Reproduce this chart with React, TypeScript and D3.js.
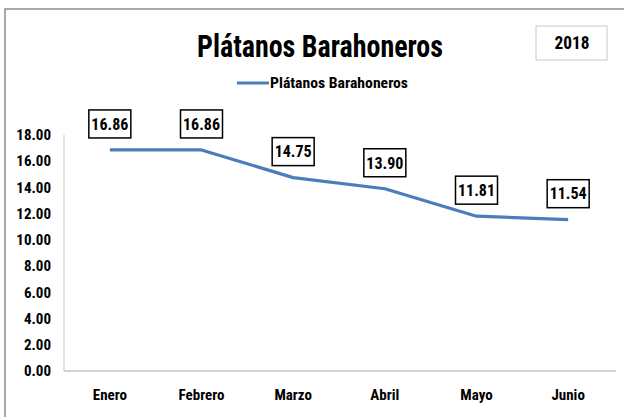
import * as d3 from "d3";

const months = ["Enero", "Febrero", "Marzo", "Abril", "Mayo", "Junio"];
const prices = [16.86, 16.86, 14.75, 13.9, 11.81, 11.54];
const yTicks = [0, 2, 4, 6, 8, 10, 12, 14, 16, 18];
const seriesName = "Plátanos Barahoneros";
const yearLabel = "2018";

const W = 624;
const H = 417;
const FONT = "'Liberation Sans Narrow', 'Arial Narrow', 'Roboto Condensed', 'Open Sans', sans-serif";
const BLUE = "#4a7ebb";

export default function App() {
  const x = d3.scaleBand().domain(months).range([64, 614]);
  const y = d3.scaleLinear().domain([0, 18]).range([371, 135]);
  const cx = (m: string) => (x(m) ?? 0) + x.bandwidth() / 2;

  const line = d3
    .line<number>()
    .x((_, i) => cx(months[i]))
    .y((d) => y(d));

  return (
    <svg
      width={W}
      height={H}
      style={{ position: "absolute", left: 0, top: 0, background: "#fff" }}
      fontFamily={FONT}
      fontWeight="bold"
    >
      <rect x={5} y={9} width={W + 10} height={H + 10} fill="#fff" stroke="#8c8c8c" strokeWidth={1.5} />

      {/* title + year box */}
      <text x={320} y={57} fontSize={32} textAnchor="middle" textLength={246} lengthAdjust="spacingAndGlyphs">
        {seriesName}
      </text>
      <rect x={536} y={26} width={71} height={34} fill="#fff" stroke="#c8c8c8" strokeWidth={1} />
      <text x={572} y={49} fontSize={18} textAnchor="middle" textLength={35} lengthAdjust="spacingAndGlyphs">
        {yearLabel}
      </text>

      {/* legend */}
      <line x1={237} x2={269} y1={83} y2={83} stroke={BLUE} strokeWidth={3} />
      <text x={270} y={88} fontSize={14} textLength={138} lengthAdjust="spacingAndGlyphs">
        {seriesName}
      </text>

      {/* axes */}
      <line x1={64} x2={64} y1={y(18)} y2={y(0)} stroke="#c4c4c4" strokeWidth={1} />
      <line x1={64} x2={616} y1={y(0)} y2={y(0)} stroke="#c4c4c4" strokeWidth={1.5} />
      {yTicks.map((t) => (
        <text key={t} x={51} y={y(t)} dy="0.35em" fontSize={15} textAnchor="end">
          {t.toFixed(2)}
        </text>
      ))}
      {months.map((m) => (
        <text key={m} x={cx(m)} y={400} fontSize={15} textAnchor="middle">
          {m}
        </text>
      ))}

      {/* series */}
      <path d={line(prices) ?? ""} fill="none" stroke={BLUE} strokeWidth={3.2} strokeLinejoin="round" />

      {/* data labels */}
      {prices.map((v, i) => {
        const px = cx(months[i]);
        const py = y(v);
        return (
          <g key={i}>
            <rect x={px - 21} y={py - 40} width={42} height={28} fill="#fff" stroke="#000" strokeWidth={1.5} />
            <text x={px} y={py - 26} dy="0.36em" fontSize={16} textAnchor="middle">
              {v.toFixed(2)}
            </text>
          </g>
        );
      })}
    </svg>
  );
}
